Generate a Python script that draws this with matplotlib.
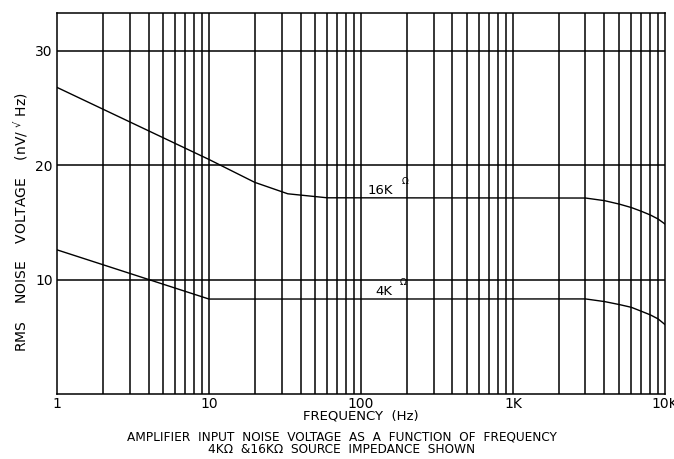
import matplotlib
matplotlib.use('Agg')
import matplotlib.pyplot as plt
import numpy as np

# values
freq_16k = [1, 10, 20, 33, 60, 3000, 4000, 5000, 6000, 7000, 8000, 9000, 10000]
noise_16k = [26.8, 20.5, 18.5, 17.5, 17.15, 17.13, 16.9, 16.6, 16.3, 15.97, 15.65, 15.3, 14.86]
freq_4k = [1, 10, 3000, 4000, 5000, 6000, 7000, 8000, 9000, 10000]
noise_4k = [12.6, 8.3, 8.31, 8.08, 7.82, 7.58, 7.23, 6.92, 6.57, 6.07]

xticks = [1, 10, 100, 1000, 10000]
xtick_labels = ['1', '10', '100', '1K', '10K']
yticks = [10, 20, 30]

plt.rcParams['font.family'] = ['DejaVu Sans']

fig = plt.figure(figsize=(6.74, 4.59), dpi=100)
ax = fig.add_axes([0.0846, 0.1416, 0.902, 0.830])
ax.set_xscale('log')
ax.set_xlim(1, 10000)
ax.set_ylim(0, 33.3)

# grid: every 1..9 per decade vertically, 10/20/30 horizontally
for dec in [1, 10, 100, 1000]:
    for m in range(2, 10):
        ax.axvline(dec * m, color='black', linewidth=1.1, zorder=1)
for d in [10, 100, 1000]:
    ax.axvline(d, color='black', linewidth=1.1, zorder=1)
for y in yticks:
    ax.axhline(y, color='black', linewidth=1.1, zorder=1)

ax.plot(freq_16k, noise_16k, color='black', linewidth=1.0, zorder=2)
ax.plot(freq_4k, noise_4k, color='black', linewidth=1.0, zorder=2)

ax.text(111, 17.8, '16K', fontsize=9.5, va='center', ha='left')
ax.text(186, 18.6, '\u03a9', fontsize=6.5, va='center', ha='left')
ax.text(125, 8.95, '4K', fontsize=9.5, va='center', ha='left')
ax.text(180, 9.75, '\u03a9', fontsize=6.5, va='center', ha='left')

ax.set_xticks(xticks)
ax.set_xticklabels(xtick_labels)
ax.xaxis.set_minor_locator(matplotlib.ticker.NullLocator())
ax.set_yticks(yticks)
ax.tick_params(length=0, labelsize=10)
ax.tick_params(axis='x', pad=2)
ax.tick_params(axis='y', pad=3)
for s in ax.spines.values():
    s.set_linewidth(1.1)

ax.set_xlabel('FREQUENCY  (Hz)', fontsize=9.5, labelpad=-1)
ax.set_ylabel('RMS    NOISE    VOLTAGE    (nV/ $^{\u221a}$ Hz)', fontsize=10)
ax.yaxis.set_label_coords(-0.045, 0.45)

fig.text(0.507, 0.048, 'AMPLIFIER  INPUT  NOISE  VOLTAGE  AS  A  FUNCTION  OF  FREQUENCY',
         ha='center', va='center', fontsize=8.7)
fig.text(0.507, 0.020, '4K\u03a9  &16K\u03a9  SOURCE  IMPEDANCE  SHOWN',
         ha='center', va='center', fontsize=8.7)

fig.savefig('out.png', dpi=100)
